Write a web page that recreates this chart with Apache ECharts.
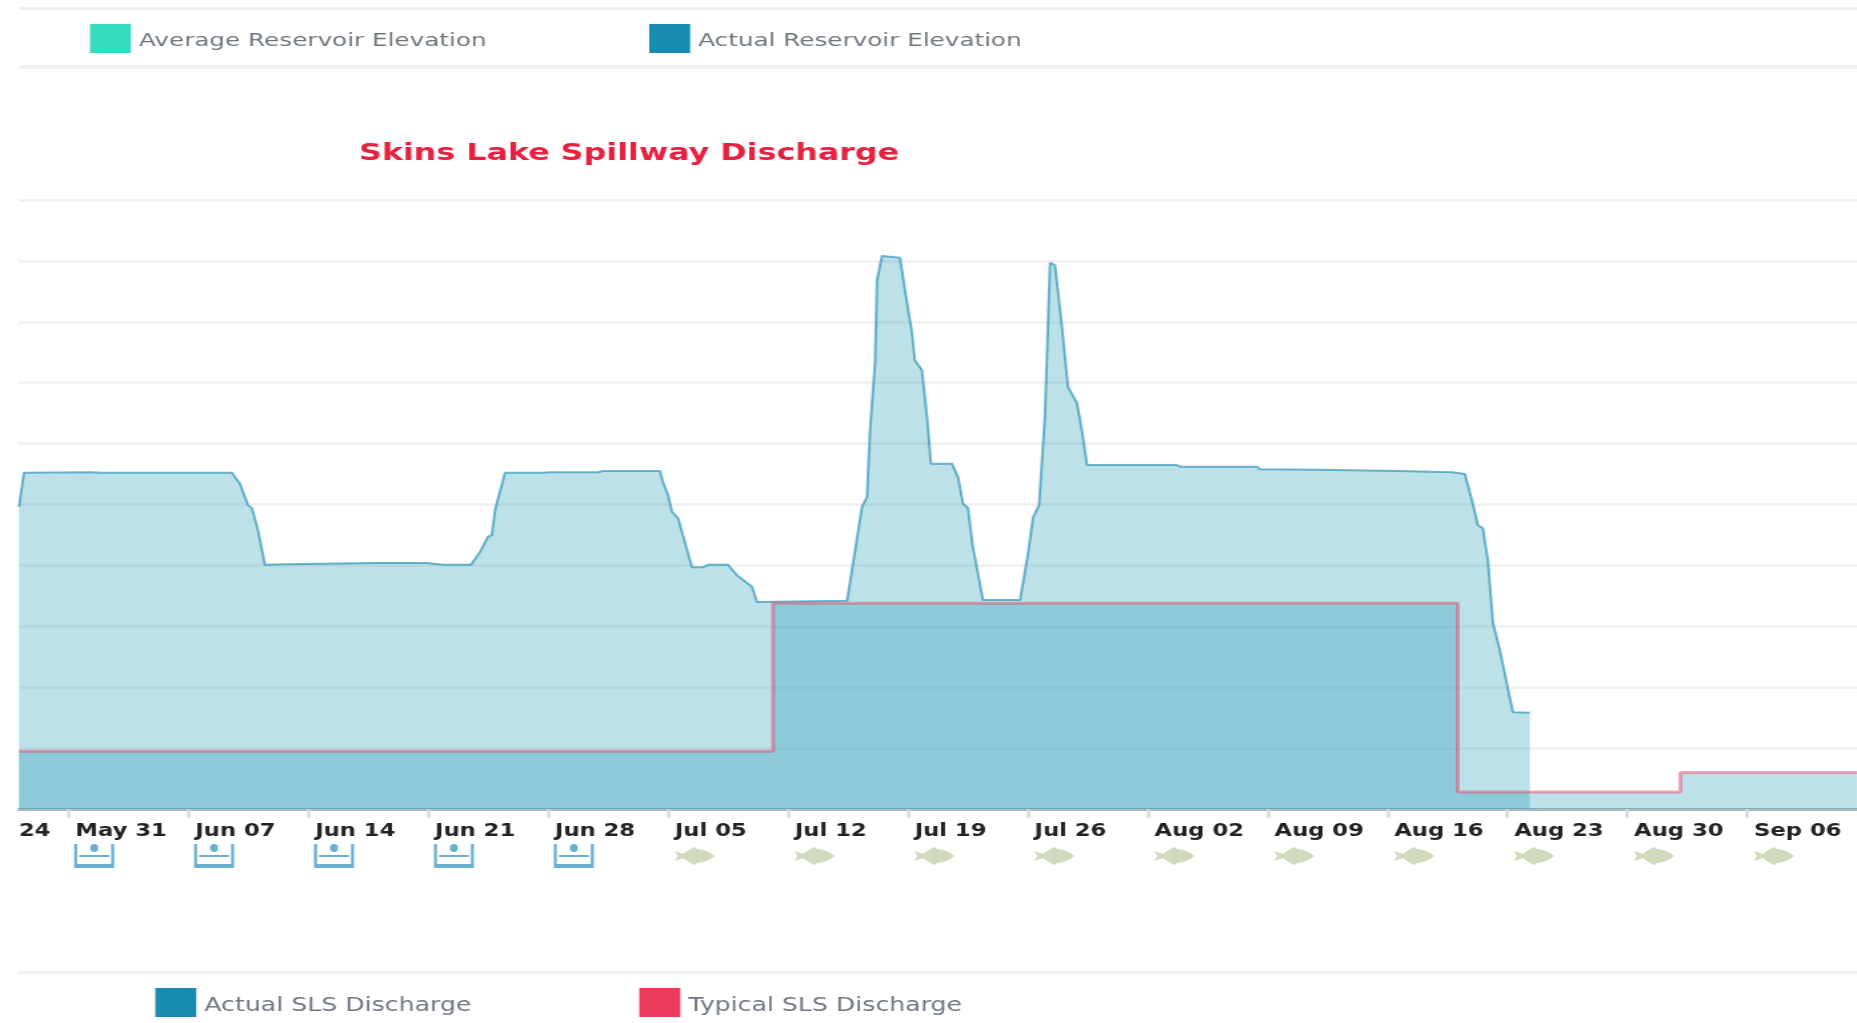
<!DOCTYPE html>
<html><head><meta charset="utf-8">
<style>html,body{margin:0;padding:0;background:#fff;overflow:hidden;width:1857px;height:1023px}
#c{width:1393px;height:1023px;transform:scaleX(1.33309);transform-origin:0 0}</style>
<script src="https://cdn.jsdelivr.net/npm/echarts@6/dist/echarts.min.js"></script>
</head><body><div id="c"></div>
<script>
// x values are days counted from May 31; y values are axis units (grid step = 1)
const titleText = 'Skins Lake Spillway Discharge';
const tickDays = [0,7,14,21,28,35,42,49,56,63,70,77,84,91,98];
const labelDays = [-2.89,0.4,7.4,14.4,21.4,28.4,35.4,42.4,49.4,56.4,63.4,70.4,77.4,84.4,91.4,98.4];
const labelNames = ['24','May 31','Jun 07','Jun 14','Jun 21','Jun 28','Jul 05','Jul 12','Jul 19','Jul 26','Aug 02','Aug 09','Aug 16','Aug 23','Aug 30','Sep 06'];
const basinDays = [1.5,8.5,15.5,22.5,29.5];
const fishDays = [36.55,43.55,50.55,57.55,64.55,71.55,78.55,85.55,92.55,99.55];
const actualDays = [-2.89,-2.6,1.37,1.84,9.54,10.01,10.48,10.71,11.06,11.47,12.76,17.72,20.93,21.86,23.5,24.02,24.49,24.72,24.9,25.48,27.7,28.11,30.91,31.2,34.53,34.7,35,35.23,35.58,36.4,37.04,37.33,38.5,39.02,39.9,40.19,45.45,45.92,46.32,46.61,46.79,47.08,47.2,47.49,48.54,48.83,49.24,49.41,49.82,50.12,50.35,51.57,51.93,52.22,52.51,52.8,53.39,55.55,56.02,56.31,56.66,57,57.3,57.59,58,58.35,58.87,59.16,59.46,64.71,64.89,69.38,69.56,73.06,77.73,80.76,81.52,81.93,82.28,82.57,82.86,83.16,83.56,84.32,85.31];
const actualVals = [4.96,5.52,5.53,5.52,5.52,5.34,4.99,4.94,4.58,4.01,4.02,4.04,4.04,4.01,4.01,4.22,4.47,4.5,4.91,5.52,5.52,5.53,5.53,5.55,5.55,5.37,5.16,4.88,4.78,3.97,3.97,4.01,4.01,3.84,3.65,3.4,3.42,4.25,4.96,5.12,6.22,7.32,8.69,9.08,9.05,8.52,7.82,7.37,7.21,6.44,5.67,5.67,5.45,5.02,4.94,4.3,3.43,3.43,4.2,4.79,4.99,6.44,8.97,8.93,7.91,6.93,6.67,6.22,5.65,5.65,5.62,5.62,5.58,5.57,5.55,5.53,5.5,5.07,4.66,4.61,4.09,3.05,2.61,1.59,1.58];
const typicalDays = [-2.89,41.13,81.1,94.1,104.4];
const typicalVals = [0.95,3.38,0.28,0.6,0.6];
const xMin = -2.89, xMax = 104.41;

const zip = (a,b) => a.map((v,i)=>[v,b[i]]);
const BLUE='#1A8BB0', RED='#EB3A5A', TEAL='#35DCBD', FONT='"DejaVu Sans"';
const FILL='rgba(28,150,178,0.29)';
const legendLabel=(size,drop)=>({rich:{t:{color:'#6f7680',fontFamily:FONT,fontSize:size,padding:[drop,0,0,1]}}});
const chart=echarts.init(document.getElementById('c'),null,{renderer:'canvas'});
const sep=(y,h)=>({type:'rect',shape:{x:14.25,y:y,width:1379,height:h},style:{fill:'#f1f1f1'},silent:true});
chart.setOption({
  animation:false,backgroundColor:'#fff',
  title:{text:titleText,left:269.25,top:142,padding:0,textStyle:{color:'#E8203F',fontFamily:FONT,fontWeight:'bold',fontSize:23.8}},
  legend:[
    {data:['Average Reservoir Elevation','Actual Reservoir Elevation'],left:67.5,top:24,padding:0,icon:'rect',itemWidth:30.75,itemHeight:29,itemGap:122,formatter:'{t|{name}}',textStyle:legendLabel(18.5,5),selectedMode:false},
    {data:['Actual SLS Discharge','Typical SLS Discharge'],left:116.5,top:988,padding:0,icon:'rect',itemWidth:30.75,itemHeight:29,itemGap:126,formatter:'{t|{name}}',textStyle:legendLabel(18.9,7),selectedMode:false}
  ],
  grid:[
    {left:14.25,right:0,top:200,bottom:214},
    {left:14.25,right:0,top:840,height:32}
  ],
  xAxis:[
    {type:'value',gridIndex:0,min:xMin,max:xMax,splitLine:{show:false},
     axisLine:{show:true,onZero:false,lineStyle:{color:'#a9babf',width:3}},
     axisTick:{show:true,customValues:tickDays,length:9,lineStyle:{color:'#dcdcdc',width:2.5}},
     axisLabel:{show:true,customValues:labelDays,margin:14,align:'left',hideOverlap:false,showMinLabel:true,showMaxLabel:true,
       color:'#222',fontFamily:FONT,fontSize:17,fontWeight:'bold',
       formatter:v=>{const i=labelDays.indexOf(v);return i<0?'':labelNames[i];}}},
    {type:'value',gridIndex:1,min:xMin,max:xMax,show:false}
  ],
  yAxis:[
    {type:'value',gridIndex:0,min:0,max:10,interval:1,axisLabel:{show:false},axisTick:{show:false},axisLine:{show:false},
     splitLine:{show:true,lineStyle:{color:'#f1f1f1',width:2.5}}},
    {type:'value',gridIndex:1,min:0,max:1,show:false}
  ],
  series:[
    {name:'Average Reservoir Elevation',type:'line',data:[],itemStyle:{color:TEAL}},
    {name:'Actual Reservoir Elevation',type:'line',data:[],itemStyle:{color:BLUE}},
    {name:'Actual SLS Discharge',type:'line',data:zip(actualDays,actualVals),symbol:'none',
     itemStyle:{color:BLUE},lineStyle:{color:'rgba(26,139,176,0.62)',width:2},areaStyle:{color:FILL,opacity:1,origin:'start'}},
    {name:'Typical SLS Discharge',type:'line',step:'end',data:zip(typicalDays,typicalVals),symbol:'none',
     itemStyle:{color:RED},lineStyle:{color:'rgba(235,58,90,0.45)',width:3},areaStyle:{color:FILL,opacity:1,origin:'start'}},
    {type:'scatter',xAxisIndex:1,yAxisIndex:1,data:basinDays.map(d=>[d,0.5]),symbolSize:[30,24],
     symbol:'path://M0 0h3v20h34V0h3v24H0z M20 0a4 4 0 1 1 0 8a4 4 0 1 1 0-8z M5 11h30v2H5z',itemStyle:{color:'#56A9C6',opacity:0.9},silent:true},
    {type:'scatter',xAxisIndex:1,yAxisIndex:1,data:fishDays.map(d=>[d,0.5]),symbolSize:[30,18],
     symbol:'path://M0 4L9 7C12 4 18 1.5 20 0L23 2C30 2.5 36 5 40 9C36 13 30 15.5 23 16L20 18C18 16.5 12 14 9 11L0 14L3 9z',itemStyle:{color:'#C5D1AE'},silent:true}
  ],
  graphic:[sep(7,3),sep(65,4),sep(971,3)]
});
</script></body></html>
